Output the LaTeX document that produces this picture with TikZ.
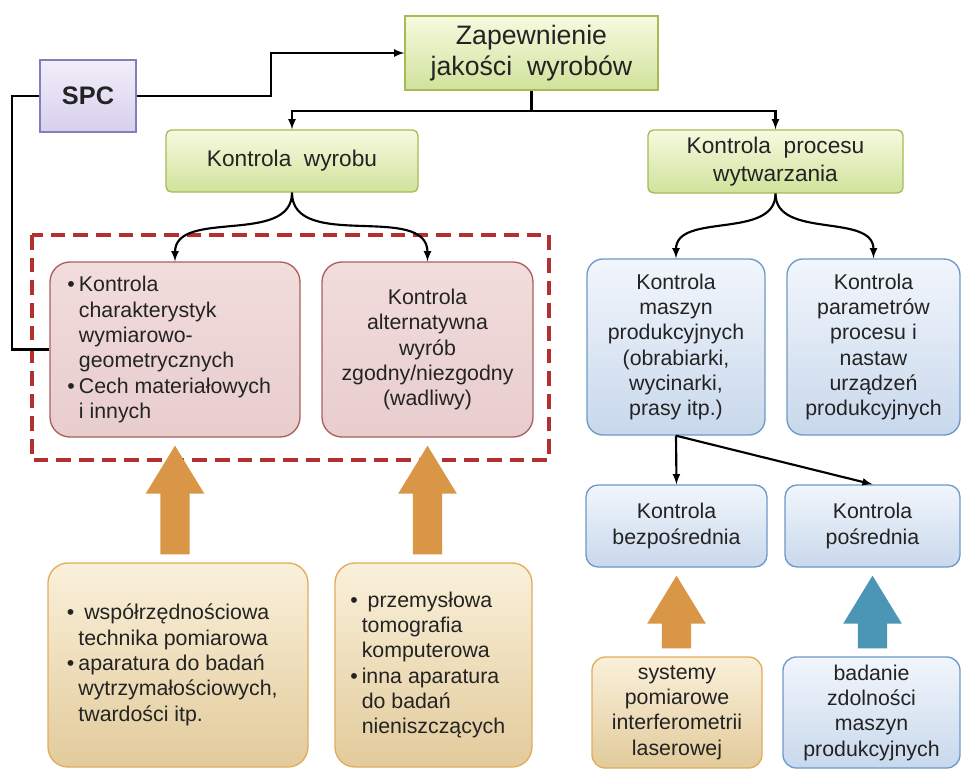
\documentclass[tikz,border=0pt]{standalone}
\usepackage{fontspec}
\setmainfont{Liberation Sans}
\usetikzlibrary{calc}

\definecolor{txtgray}{RGB}{35,35,35}
\definecolor{grntop}{RGB}{247,250,224}
\definecolor{grnbot}{RGB}{208,226,155}
\definecolor{grnline}{RGB}{165,188,85}
\definecolor{lavtop}{RGB}{242,238,250}
\definecolor{lavbot}{RGB}{214,208,236}
\definecolor{lavline}{RGB}{128,128,190}
\definecolor{pinkfill}{RGB}{242,220,220}
\definecolor{pinkbot}{RGB}{232,205,205}
\definecolor{pinkline}{RGB}{172,95,95}
\definecolor{bluetop}{RGB}{242,246,252}
\definecolor{bluebot}{RGB}{200,216,236}
\definecolor{blueline}{RGB}{110,152,200}
\definecolor{tantop}{RGB}{250,240,218}
\definecolor{tanbot}{RGB}{226,203,155}
\definecolor{tanline}{RGB}{226,172,92}
\definecolor{dashred}{RGB}{180,48,48}
\definecolor{fatorange}{RGB}{216,150,70}
\definecolor{fatblue}{RGB}{74,150,180}

\newcommand{\bul}{\llap{\textbullet\hspace{3pt}}}

\begin{document}
\begin{tikzpicture}[x=0.75pt,y=-0.75pt,>=latex,
  wh/.style 2 args={minimum width=#1*0.75pt,minimum height=#2*0.75pt},
  box/.style={draw,line width=1pt,inner sep=0pt,align=center,text=txtgray,
    font=\fontsize{16}{19}\selectfont},
  greenbox/.style={box,top color=grntop,bottom color=grnbot,draw=grnline},
  spcbox/.style={box,top color=lavtop,bottom color=lavbot,draw=lavline},
  pinkbox/.style={box,top color=pinkfill,bottom color=pinkbot,draw=pinkline,rounded corners=15pt},
  bluebox/.style={box,top color=bluetop,bottom color=bluebot,draw=blueline,rounded corners=12pt},
  tanbox/.style={box,top color=tantop,bottom color=tanbot,draw=tanline,rounded corners=15pt},
  link/.style={line width=1.6pt}]
\useasboundingbox (0,0) rectangle (961,769);

% Product group frame
\draw[dashred,line width=2.6pt,dash pattern=on 11pt off 6pt] (32,235) rectangle (549,460);

% Top level
\node[greenbox,wh={253}{74},font=\fontsize{20}{23.5}\selectfont] (zap) at (531.5,53) {Zapewnienie\\jakości~ wyrobów};
\node[spcbox,wh={96}{72},font=\fontsize{19}{22}\selectfont\bfseries] (spc) at (88,96) {SPC};

% Second level
\node[greenbox,rounded corners=4pt,wh={252}{62},font=\fontsize{17}{21}\selectfont] (wyrob) at (292,161) {Kontrola~ wyrobu};
\node[greenbox,rounded corners=4pt,wh={255}{63},font=\fontsize{17}{21}\selectfont] (proces) at (775.5,161.5) {Kontrola~ procesu\\wytwarzania};

% Product control boxes
\node[pinkbox,wh={250}{175},align=left] (pink1) at (175,349.5)
  {\bul Kontrola\\charakterystyk\\wymiarowo-\\geometrycznych\\\bul Cech materiałowych\\i innych};
\node[pinkbox,wh={211}{175}] (pink2) at (427.5,349.5)
  {Kontrola\\alternatywna\\wyrób\\zgodny/niezgodny\\(wadliwy)};

% Process control boxes
\node[bluebox,wh={178}{176}] (blue1) at (676,347)
  {Kontrola\\maszyn\\produkcyjnych\\(obrabiarki,\\wycinarki,\\prasy itp.)};
\node[bluebox,wh={173}{176}] (blue2) at (873.5,347)
  {Kontrola\\parametrów\\procesu i\\nastaw\\urządzeń\\produkcyjnych};
\node[bluebox,rounded corners=9pt,wh={181}{82}] (bezp) at (676.5,526) {Kontrola\\bezpośrednia};
\node[bluebox,rounded corners=9pt,wh={175}{82}] (posr) at (872.5,526) {Kontrola\\pośrednia};

% Tools
\node[tanbox,wh={260}{204},align=left] (bot1) at (178,665)
  {\bul{} współrzędnościowa\\technika pomiarowa\\\bul aparatura do badań\\wytrzymałościowych,\\twardości itp.};
\node[tanbox,wh={197}{204},align=left] (bot2) at (433.5,665)
  {\bul{} przemysłowa\\tomografia\\komputerowa\\\bul inna aparatura\\do badań\\nieniszczących};
\node[tanbox,rounded corners=10pt,wh={170}{111}] (syst) at (677,712.5)
  {systemy\\pomiarowe\\interferometrii\\laserowej};
\node[bluebox,rounded corners=10pt,wh={177}{111}] (bad) at (871.5,712.5)
  {badanie\\zdolności\\maszyn\\produkcyjnych};

% SPC links
\draw[link,->] (spc.east) -- ++(134,0) |- (zap.west);
\draw[link] (spc.west) -- ++(-27,0) |- (pink1.west);

% Split from the top
\draw[link,->] (zap.south) -- ++(0,20) -| (wyrob.north);
\draw[link,->] (zap.south) -- ++(0,20) -| (proces.north);

% Curved branches
\foreach \t in {pink1,pink2} {
  \draw[link,->] (wyrob.south) to[out=-90,in=90] (\t.north);
}
\foreach \t in {blue1,blue2} {
  \draw[link,->] (proces.south) to[out=-90,in=90] (\t.north);
}

% Machine control
\draw[link,->] (blue1.south) -- (bezp.north);
\draw[link,->] (blue1.south) -- (posr.north);

% Fat arrows
\foreach \src/\dst/\col in {bot1/pink1/fatorange,bot2/pink2/fatorange,syst/bezp/fatorange,bad/posr/fatblue} {
  \fill[\col] let \p1=(\dst.south), \p2=(\src.north) in
    (\x1-11pt,\y2+6pt) -- (\x1-11pt,\y1-42pt) -- (\x1-22pt,\y1-42pt) -- (\x1,\y1-6pt)
    -- (\x1+22pt,\y1-42pt) -- (\x1+11pt,\y1-42pt) -- (\x1+11pt,\y2+6pt) -- cycle;
}

\end{tikzpicture}
\end{document}
